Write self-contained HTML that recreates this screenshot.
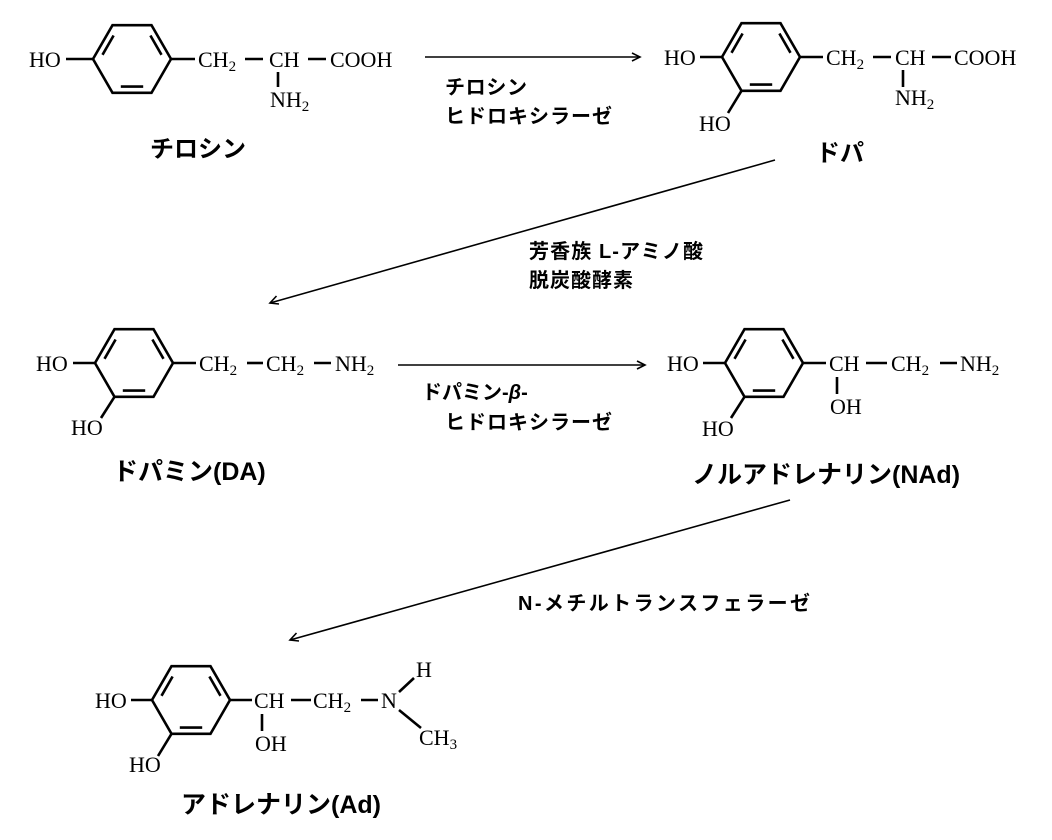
<!DOCTYPE html>
<html><head><meta charset="utf-8"><style>
html,body{margin:0;padding:0;background:#fff}
svg{display:block}
.c{font-family:"Liberation Serif",serif;font-size:22px;fill:#000}
.s{font-size:15px}
.j{font-family:"Liberation Sans","Noto Sans CJK JP",sans-serif;font-weight:bold;fill:#000}
.e{font-size:20px}
.n{font-size:24px}
.m{font-size:25px}
line,polyline,polygon{stroke:#000;stroke-width:2.6;fill:none}
.a{stroke-width:1.6}
</style></head><body>
<svg width="1052" height="840" viewBox="0 0 1052 840" xmlns="http://www.w3.org/2000/svg">
<defs>
<g id="ring">
<polygon points="-39,0 -19.5,-33.8 19.5,-33.8 39,0 19.5,33.8 -19.5,33.8"/>
<line x1="-29.5" y1="-4.2" x2="-18.4" y2="-23.5"/>
<line x1="18.4" y1="-23.5" x2="29.5" y2="-4.2"/>
<line x1="11.2" y1="27.6" x2="-11.2" y2="27.6"/>
</g>
</defs>

<!-- Tyrosine -->
<use href="#ring" transform="translate(132,59)"/>
<text class="c" x="29" y="67">HO</text>
<line x1="66" y1="59" x2="93" y2="59"/>
<line x1="171" y1="59" x2="195" y2="59"/>
<text class="c" x="198" y="67">CH<tspan class="s" dy="4">2</tspan></text>
<line x1="245" y1="59" x2="263" y2="59"/>
<text class="c" x="269" y="67">CH</text>
<line x1="278" y1="72" x2="278" y2="87"/>
<text class="c" x="270" y="107">NH<tspan class="s" dy="4">2</tspan></text>
<line x1="308" y1="59" x2="326" y2="59"/>
<text class="c" x="330" y="67">COOH</text>
<text class="j n" x="150" y="157">チロシン</text>

<!-- arrow 1 -->
<line class="a" x1="425" y1="57" x2="640" y2="57"/>
<polyline class="a" points="632,53 640,57 632,61"/>
<text class="j e" x="445" y="94" textLength="82">チロシン</text>
<text class="j e" x="445" y="123" textLength="167">ヒドロキシラーゼ</text>

<!-- DOPA -->
<use href="#ring" transform="translate(761,57)"/>
<text class="c" x="664" y="65">HO</text>
<line x1="700" y1="57" x2="722" y2="57"/>
<line x1="741.5" y1="90.8" x2="728" y2="113"/>
<text class="c" x="699" y="131">HO</text>
<line x1="800" y1="57" x2="823" y2="57"/>
<text class="c" x="826" y="65">CH<tspan class="s" dy="4">2</tspan></text>
<line x1="873" y1="57" x2="891" y2="57"/>
<text class="c" x="895" y="65">CH</text>
<line x1="903" y1="70" x2="903" y2="87"/>
<text class="c" x="895" y="105">NH<tspan class="s" dy="4">2</tspan></text>
<line x1="932" y1="57" x2="951" y2="57"/>
<text class="c" x="954" y="65">COOH</text>
<text class="j n" x="816" y="161">ドパ</text>

<!-- arrow 2 -->
<line class="a" x1="775" y1="160" x2="270" y2="303"/>
<polyline class="a" points="276.5,296 270,303 279,304"/>
<text class="j e" x="529" y="258" textLength="174">芳香族 L-アミノ酸</text>
<text class="j e" x="529" y="287" textLength="104">脱炭酸酵素</text>

<!-- Dopamine -->
<use href="#ring" transform="translate(134,363)"/>
<text class="c" x="36" y="371">HO</text>
<line x1="73" y1="363" x2="95" y2="363"/>
<line x1="114.5" y1="396.8" x2="101" y2="418"/>
<text class="c" x="71" y="435">HO</text>
<line x1="173" y1="363" x2="196" y2="363"/>
<text class="c" x="199" y="371">CH<tspan class="s" dy="4">2</tspan></text>
<line x1="247" y1="363" x2="263" y2="363"/>
<text class="c" x="266" y="371">CH<tspan class="s" dy="4">2</tspan></text>
<line x1="314" y1="363" x2="331" y2="363"/>
<text class="c" x="335" y="371">NH<tspan class="s" dy="4">2</tspan></text>
<text class="j m" x="113" y="480">ドパミン(DA)</text>

<!-- arrow 3 -->
<line class="a" x1="398" y1="365" x2="645" y2="365"/>
<polyline class="a" points="637,361 645,365 637,369"/>
<text class="j e" x="422" y="399">ドパミン-<tspan font-style="italic">β</tspan>-</text>
<text class="j e" x="445" y="429" textLength="167">ヒドロキシラーゼ</text>

<!-- Noradrenaline -->
<use href="#ring" transform="translate(764,363)"/>
<text class="c" x="667" y="371">HO</text>
<line x1="703" y1="363" x2="725" y2="363"/>
<line x1="744.5" y1="396.8" x2="731" y2="418"/>
<text class="c" x="702" y="436">HO</text>
<line x1="803" y1="363" x2="826" y2="363"/>
<text class="c" x="829" y="371">CH</text>
<line x1="837" y1="377" x2="837" y2="394"/>
<text class="c" x="830" y="414">OH</text>
<line x1="866" y1="363" x2="887" y2="363"/>
<text class="c" x="891" y="371">CH<tspan class="s" dy="4">2</tspan></text>
<line x1="940" y1="363" x2="957" y2="363"/>
<text class="c" x="960" y="371">NH<tspan class="s" dy="4">2</tspan></text>
<text class="j m" x="692" y="483">ノルアドレナリン(NAd)</text>

<!-- arrow 4 -->
<line class="a" x1="790" y1="500" x2="290" y2="640"/>
<polyline class="a" points="296.5,633 290,640 299,641"/>
<text class="j e" x="518" y="610" textLength="292">N-メチルトランスフェラーゼ</text>

<!-- Adrenaline -->
<use href="#ring" transform="translate(191,700)"/>
<text class="c" x="95" y="708">HO</text>
<line x1="131" y1="700" x2="152" y2="700"/>
<line x1="171.5" y1="733.8" x2="158" y2="756"/>
<text class="c" x="129" y="772">HO</text>
<line x1="230" y1="700" x2="252" y2="700"/>
<text class="c" x="254" y="708">CH</text>
<line x1="262" y1="714" x2="262" y2="731"/>
<text class="c" x="255" y="751">OH</text>
<line x1="291" y1="700" x2="311" y2="700"/>
<text class="c" x="313" y="708">CH<tspan class="s" dy="4">2</tspan></text>
<line x1="361" y1="700" x2="378" y2="700"/>
<text class="c" x="381" y="708">N</text>
<line x1="399" y1="692" x2="414" y2="678"/>
<text class="c" x="416" y="677">H</text>
<line x1="399" y1="710" x2="421" y2="728"/>
<text class="c" x="419" y="745">CH<tspan class="s" dy="4">3</tspan></text>
<text class="j m" x="181" y="813">アドレナリン(Ad)</text>
</svg>
</body></html>
